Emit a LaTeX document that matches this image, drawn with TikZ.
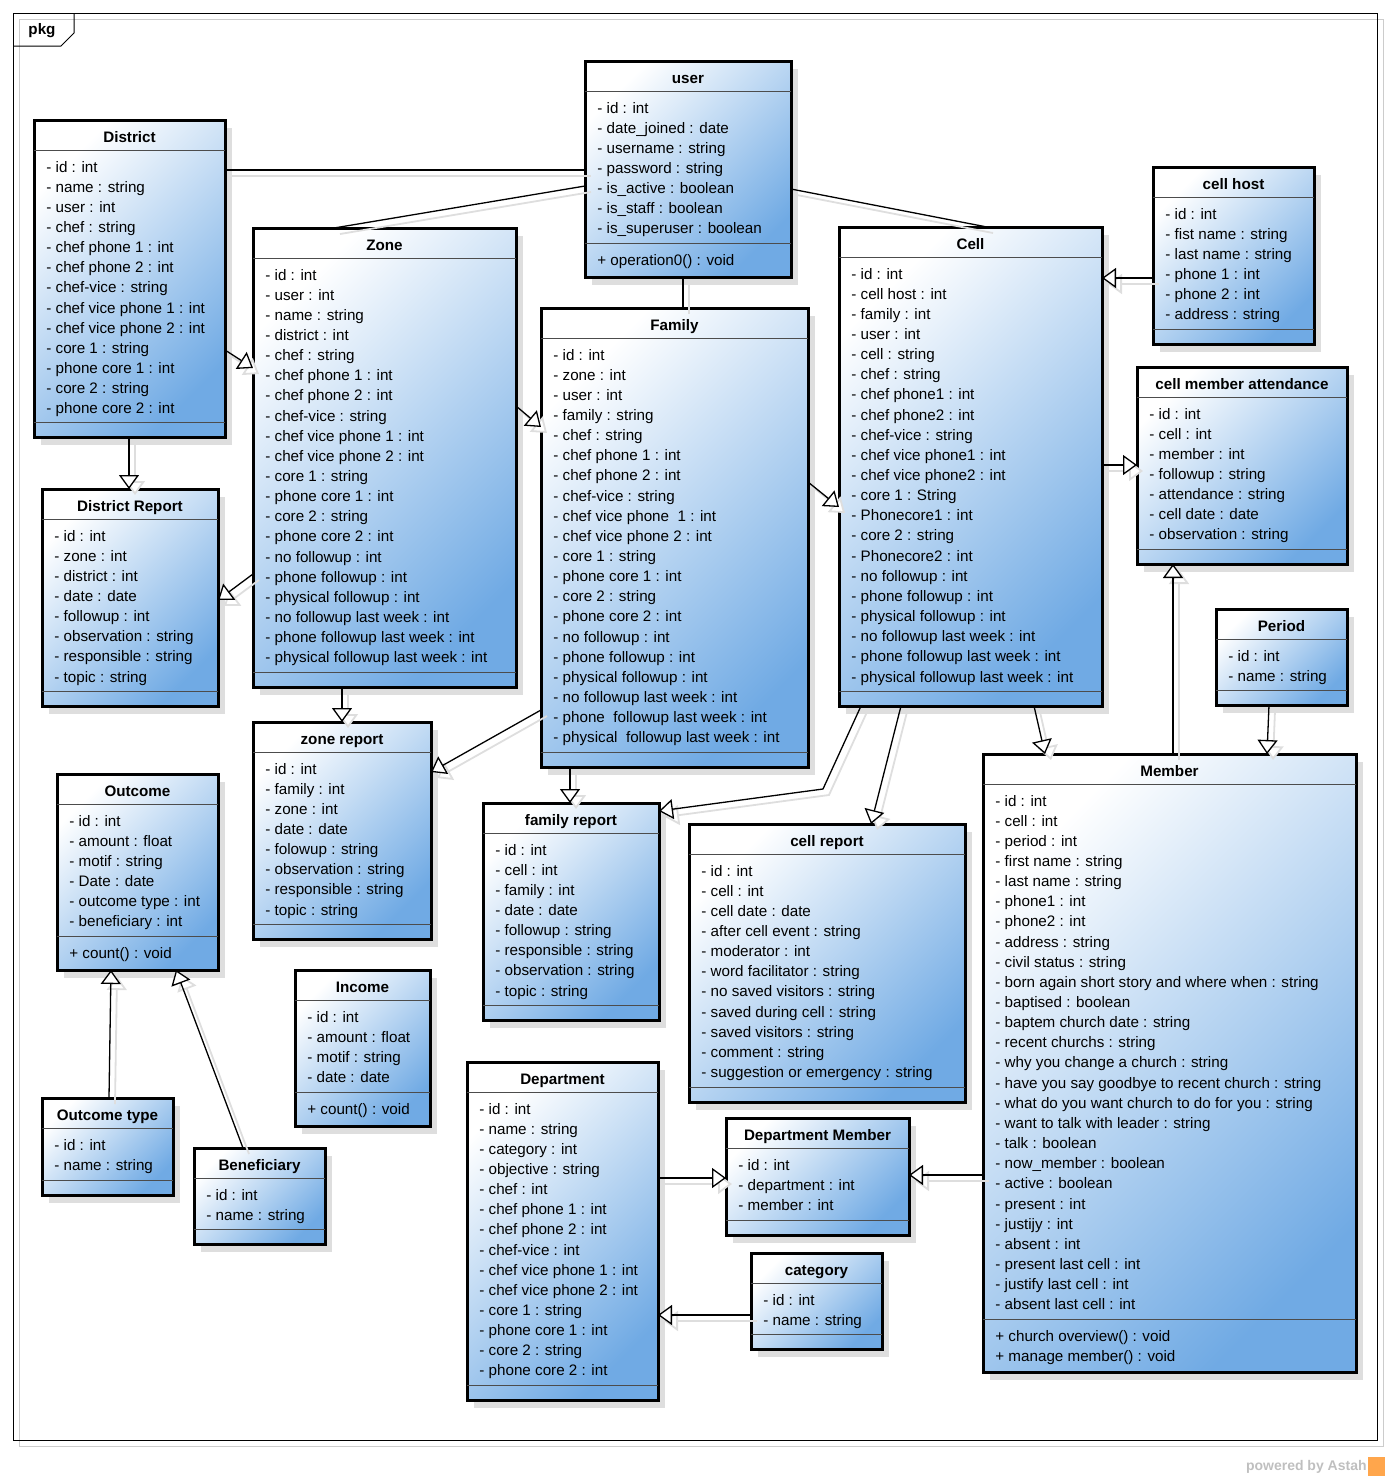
\documentclass[tikz,border=0pt]{standalone}
\usepackage{fontspec}
\setmainfont{Liberation Sans}
\usetikzlibrary{arrows.meta, calc}
\definecolor{classBlue}{RGB}{112, 170, 228}
\colorlet{shadowGray}{black!13}
\newcommand{\umlfont}{\fontsize{7.6}{9}\selectfont}
\tikzset{
    classbox/.style={draw=black, line width=1.5pt, inner sep=0pt, outer sep=0pt,
        top color=white, bottom color=classBlue, shading angle=45},
    boxshadow/.style={fill=shadowGray},
    rowline/.style={draw=black!70, line width=0.5pt},
    classtitle/.style={font=\umlfont\bfseries, inner sep=0pt, text height=5.5pt, text depth=1.5pt},
    attrtext/.style={font=\umlfont, anchor=west, inner sep=0pt, text height=5.5pt, text depth=1.5pt},
    assoc/.style={draw=black, line width=0.65pt,
        preaction={draw=shadowGray, line width=0.9pt, transform canvas={shift={(3pt,-3pt)}}}},
    inherit/.style={assoc, -{Triangle[fill=white, length=7pt, width=10pt]}}
}
% class box: name, left, top, right, bottom, separator, title, attributes
\newcommand{\umlclass}[8]{%
    \fill[boxshadow] (#2+7,#3+8) rectangle (#4+7,#5+8);
    \node[classbox, anchor=north west, minimum width={(#4-#2)*0.5pt}, minimum height={(#5-#3)*0.5pt}] (#1) at (#2,#3) {};
    \draw[rowline] (#2,#3+30) -- (#4,#3+30);
    \draw[rowline] (#2,#6) -- (#4,#6);
    \node[classtitle] at ({(#2+#4)/2},#3+18) {#7};
    \foreach \attr [count=\k] in {#8}
        \node[attrtext] at (#2+12,{#3+48+(\k-1)*20.15}) {\attr};
}
% operations below the separator: left, separator, operations
\newcommand{\umlops}[3]{%
    \foreach \attr [count=\k] in {#3}
        \node[attrtext] at (#1+12,{#2+18+(\k-1)*20.15}) {\attr};
}

\begin{document}
\begin{tikzpicture}[x=0.5pt, y=-0.5pt]
    \useasboundingbox (0,0) rectangle (1389,1480);

    % Draw the package frame
    \draw[draw=black!20, line width=0.5pt] (19,19) rectangle (1383,1446);
    \draw[line width=0.5pt] (13,13) rectangle (1377,1440);
    \draw[line width=0.5pt] (13,46) -- (61,46) -- (74,33) -- (74,13);
    \node[font=\umlfont\bfseries, inner sep=0pt] (pkg) at (42,31) {pkg};

    % Draw the classes
    \umlclass{user}{585}{61}{791}{277}{243}{user}{- id : int,- date\_joined : date,- username : string,- password : string,- is\_active : boolean,- is\_staff : boolean,- is\_superuser : boolean}
    \umlops{585}{243}{+ operation0() : void}

    \umlclass{district}{34}{120}{225}{437}{422}{District}{- id : int,- name : string,- user : int,- chef : string,- chef phone 1 : int,- chef phone 2 : int,- chef-vice : string,- chef vice phone 1 : int,- chef vice phone 2 : int,- core 1 : string,- phone core 1 : int,- core 2 : string,- phone core 2 : int}

    \umlclass{zone}{253}{228}{516}{687}{672}{Zone}{- id : int,- user : int,- name : string,- district : int,- chef : string,- chef phone 1 : int,- chef phone 2 : int,- chef-vice : string,- chef vice phone 1 : int,- chef vice phone 2 : int,- core 1 : string,- phone core 1 : int,- core 2 : string,- phone core 2 : int,- no followup : int,- phone followup : int,- physical followup : int,- no followup last week : int,- phone followup last week : int,- physical followup last week : int}

    \umlclass{family}{541}{308}{808}{767}{752}{Family}{- id : int,- zone : int,- user : int,- family : string,- chef : string,- chef phone 1 : int,- chef phone 2 : int,- chef-vice : string,- chef vice phone~ 1 : int,- chef vice phone 2 : int,- core 1 : string,- phone core 1 : int,- core 2 : string,- phone core 2 : int,- no followup : int,- phone followup : int,- physical followup : int,- no followup last week : int,- phone~ followup last week : int,- physical~ followup last week : int}

    \umlclass{cell}{839}{227}{1102}{706}{691}{Cell}{- id : int,- cell host : int,- family : int,- user : int,- cell : string,- chef : string,- chef phone1 : int,- chef phone2 : int,- chef-vice : string,- chef vice phone1 : int,- chef vice phone2 : int,- core 1 : String,- Phonecore1 : int,- core 2 : string,- Phonecore2 : int,- no followup : int,- phone followup : int,- physical followup : int,- no followup last week : int,- phone followup last week : int,- physical followup last week : int}

    \umlclass{cellhost}{1153}{167}{1314}{344}{329}{cell host}{- id : int,- fist name : string,- last name : string,- phone 1 : int,- phone 2 : int,- address : string}

    \umlclass{attendance}{1137}{367}{1347}{564}{549}{cell member attendance}{- id : int,- cell : int,- member : int,- followup : string,- attendance : string,- cell date : date,- observation : string}

    \umlclass{period}{1216}{609}{1347}{705}{690}{Period}{- id : int,- name : string}

    \umlclass{member}{983}{754}{1356}{1372}{1319}{Member}{- id : int,- cell : int,- period : int,- first name : string,- last name : string,- phone1 : int,- phone2 : int,- address : string,- civil status : string,- born again short story and where when : string,- baptised : boolean,- baptem church date : string,- recent churchs : string,- why you change a church : string,- have you say goodbye to recent church : string,- what do you want church to do for you : string,- want to talk with leader : string,- talk : boolean,- now\_member : boolean,- active : boolean,- present : int,- justijy : int,- absent : int,- present last cell : int,- justify last cell : int,- absent last cell : int}
    \umlops{983}{1319}{+ church overview() : void,+ manage member() : void}

    \umlclass{districtreport}{42}{489}{218}{706}{691}{District Report}{- id : int,- zone : int,- district : int,- date : date,- followup : int,- observation : string,- responsible : string,- topic : string}

    \umlclass{zonereport}{253}{722}{431}{939}{924}{zone report}{- id : int,- family : int,- zone : int,- date : date,- folowup : string,- observation : string,- responsible : string,- topic : string}

    \umlclass{familyreport}{483}{803}{659}{1020}{1005}{family report}{- id : int,- cell : int,- family : int,- date : date,- followup : string,- responsible : string,- observation : string,- topic : string}

    \umlclass{cellreport}{689}{824}{965}{1102}{1087}{cell report}{- id : int,- cell : int,- cell date : date,- after cell event : string,- moderator : int,- word facilitator : string,- no saved visitors : string,- saved during cell : string,- saved visitors : string,- comment : string,- suggestion or emergency : string}

    \umlclass{outcome}{57}{774}{218}{970}{936}{Outcome}{- id : int,- amount : float,- motif : string,- Date : date,- outcome type : int,- beneficiary : int}
    \umlops{57}{936}{+ count() : void}

    \umlclass{income}{295}{970}{430}{1126}{1092}{Income}{- id : int,- amount : float,- motif : string,- date : date}
    \umlops{295}{1092}{+ count() : void}

    \umlclass{outcometype}{42}{1098}{173}{1195}{1180}{Outcome type}{- id : int,- name : string}

    \umlclass{beneficiary}{194}{1148}{325}{1244}{1229}{Beneficiary}{- id : int,- name : string}

    \umlclass{department}{467}{1062}{658}{1400}{1385}{Department}{- id : int,- name : string,- category : int,- objective : string,- chef : int,- chef phone 1 : int,- chef phone 2 : int,- chef-vice : int,- chef vice phone 1 : int,- chef vice phone 2 : int,- core 1 : string,- phone core 1 : int,- core 2 : string,- phone core 2 : int}

    \umlclass{deptmember}{726}{1118}{909}{1235}{1220}{Department Member}{- id : int,- department : int,- member : int}

    \umlclass{category}{751}{1253}{882}{1349}{1334}{category}{- id : int,- name : string}

    % Associations with user
    \draw[assoc] ($(district.north east)+(0,50)$) -- ($(user.north west)+(0,109)$);
    \draw[assoc] ($(zone.north west)+(81,0)$) -- ($(user.north west)+(0,125)$);
    \draw[assoc] ($(user.south west)+(98,0)$) -- ($(family.north west)+(142,0)$);
    \draw[assoc] ($(user.north east)+(0,128)$) -- ($(cell.north west)+(148,0)$);

    % Generalizations
    \draw[inherit] ($(district.north east)+(0,230)$) -- ($(zone.north west)+(0,140)$);
    \draw[inherit] ($(zone.north east)+(0,178)$) -- ($(family.north west)+(0,119)$);
    \draw[inherit] ($(family.north east)+(0,174)$) -- ($(cell.north west)+(0,280)$);
    \draw[inherit] ($(cellhost.north west)+(0,111)$) -- ($(cell.north east)+(0,51)$);
    \draw[inherit] ($(cell.north east)+(0,238)$) -- ($(attendance.north west)+(0,98)$);
    \draw[inherit] ($(member.north west)+(190,0)$) -- ($(attendance.south west)+(36,0)$);
    \draw[inherit] ($(period.south west)+(53,0)$) -- ($(member.north west)+(284,0)$);
    \draw[inherit] ($(cell.south west)+(195,0)$) -- ($(member.north west)+(62,0)$);
    \draw[inherit] ($(cell.south west)+(62,0)$) -- ($(cellreport.north west)+(182,0)$);
    \draw[inherit] ($(cell.south west)+(22,0)$) -- ($(cell.south west)+(-16,83)$) -- ($(familyreport.north east)+(0,8)$);
    \draw[inherit] ($(zone.south west)+(89,0)$) -- ($(zonereport.north west)+(89,0)$);
    \draw[inherit] ($(family.north west)+(0,402)$) -- ($(zonereport.north east)+(0,50)$);
    \draw[inherit] ($(family.south west)+(29,0)$) -- ($(familyreport.north west)+(87,0)$);
    \draw[inherit] ($(district.south west)+(95,0)$) -- ($(districtreport.north west)+(87,0)$);
    \draw[inherit] ($(zone.north west)+(0,346)$) -- ($(districtreport.north east)+(0,111)$);
    \draw[inherit] ($(outcometype.north west)+(67,0)$) -- ($(outcome.south west)+(54,0)$);
    \draw[inherit] ($(beneficiary.north west)+(49,0)$) -- ($(outcome.south west)+(119,0)$);
    \draw[inherit] ($(department.north east)+(0,116)$) -- ($(deptmember.north west)+(0,60)$);
    \draw[inherit] ($(member.north west)+(0,421)$) -- ($(deptmember.north east)+(0,57)$);
    \draw[inherit] ($(category.north west)+(0,62)$) -- ($(department.north east)+(0,253)$);

    % Watermark
    \node[font=\fontsize{7}{8}\selectfont\bfseries, text=black!25, anchor=east, inner sep=0pt] (astah) at (1367,1467) {powered by Astah};
    \fill[orange!70] (1368,1457) rectangle (1385,1476);
\end{tikzpicture}
\end{document}
